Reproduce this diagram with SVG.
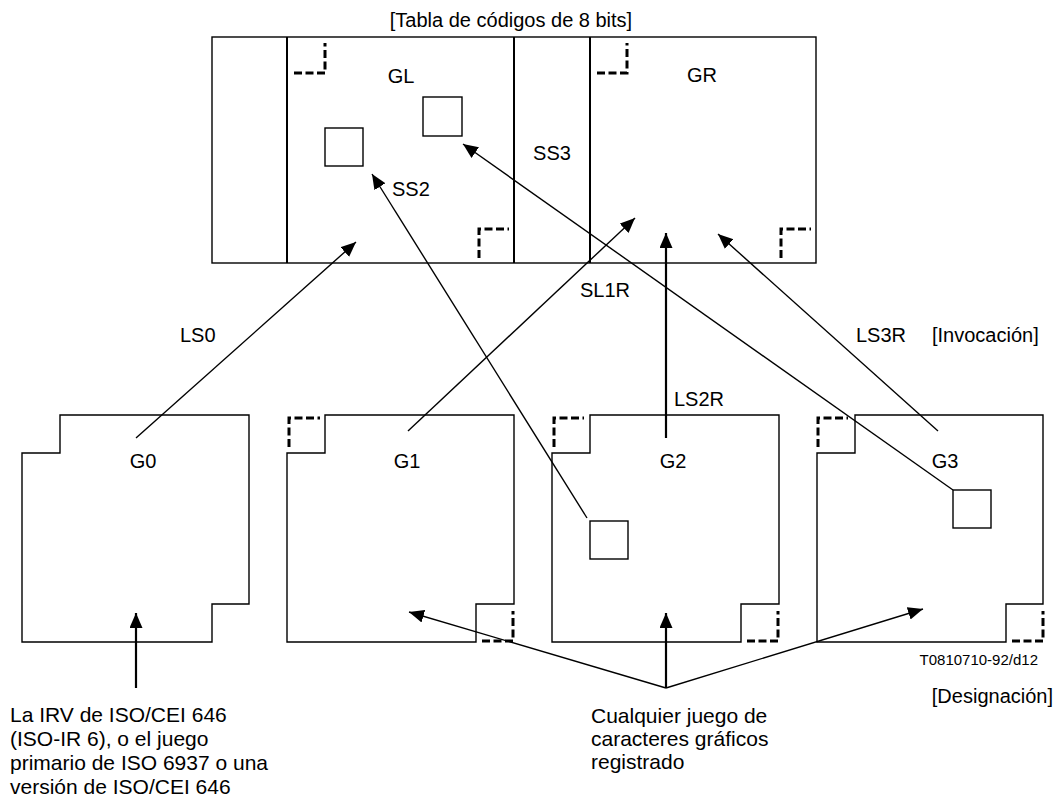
<svg xmlns="http://www.w3.org/2000/svg" width="1062" height="798" viewBox="0 0 1062 798">
<defs>
<marker id="ah" markerUnits="userSpaceOnUse" markerWidth="16" markerHeight="14" refX="15" refY="6.5" orient="auto">
<path d="M0,0 L15,6.5 L0,13 z" fill="#000"/>
</marker>
<style>
.t{font-family:"Liberation Sans",Arial,sans-serif;font-size:20px;fill:#000}
.d{font-family:"Liberation Sans",Arial,sans-serif;font-size:21px;fill:#000}
.s{font-family:"Liberation Sans",Arial,sans-serif;font-size:15px;fill:#000}
.box{fill:none;stroke:#000;stroke-width:1.4}
.div{fill:none;stroke:#000;stroke-width:2}
.dash{fill:none;stroke:#000;stroke-width:3;stroke-dasharray:8,3.5}
.c{fill:none;stroke:#000;stroke-width:1.4;marker-end:url(#ah)}
.cv{fill:none;stroke:#000;stroke-width:2.2;marker-end:url(#ah)}
.ln{fill:none;stroke:#000;stroke-width:1.4}
</style>
</defs>
<rect width="1062" height="798" fill="#fff"/>

<g id="codetable">
<text class="t" x="511" y="27" text-anchor="middle">[Tabla de códigos de 8 bits]</text>
<rect class="box" x="212" y="37" width="604" height="226"/>
<line class="div" x1="287" y1="37" x2="287" y2="263"/>
<line class="div" x1="514" y1="37" x2="514" y2="263"/>
<line class="div" x1="590" y1="37" x2="590" y2="263"/>
<path class="dash" d="M294,73 H325 V43"/>
<path class="dash" d="M479,258 V229 H509"/>
<path class="dash" d="M597,73 H627 V43"/>
<path class="dash" d="M781,258 V229 H811"/>
<rect class="box" x="325" y="128" width="38" height="38"/>
<rect class="box" x="423" y="97" width="39" height="39"/>
<text class="t" x="401" y="83" text-anchor="middle">GL</text>
<text class="t" x="702" y="82" text-anchor="middle">GR</text>
<text class="t" x="392" y="196">SS2</text>
<text class="t" x="552" y="160" text-anchor="middle">SS3</text>
</g>

<g id="G0">
<path class="box" d="M60,415 H249 V604 H212 V642 H22 V453 H60 Z"/>
<text class="t" x="143" y="468" text-anchor="middle">G0</text>
</g>
<g id="G1">
<path class="box" d="M325,415 H514 V604 H476 V642 H287 V453 H325 Z"/>
<path class="dash" d="M289,447 V418 H320"/>
<path class="dash" d="M482,641 H513 V611"/>
<text class="t" x="407" y="468" text-anchor="middle">G1</text>
</g>
<g id="G2">
<path class="box" d="M590,415 H779 V604 H741 V642 H552 V453 H590 Z"/>
<path class="dash" d="M554,447 V418 H584"/>
<path class="dash" d="M747,641 H778 V611"/>
<rect class="box" x="590" y="521" width="38" height="38"/>
<text class="t" x="673" y="468" text-anchor="middle">G2</text>
</g>
<g id="G3">
<path class="box" d="M855,415 H1043 V604 H1006 V642 H817 V453 H855 Z"/>
<path class="dash" d="M818,447 V418 H848"/>
<path class="dash" d="M1012,641 H1043 V611"/>
<rect class="box" x="953" y="490" width="38" height="38"/>
<text class="t" x="945" y="468" text-anchor="middle">G3</text>
</g>

<g id="connectors">
<line class="c" x1="136" y1="438" x2="356" y2="242"/>
<line class="c" x1="408" y1="431" x2="635" y2="218"/>
<line class="cv" x1="666" y1="438" x2="666" y2="233"/>
<line class="c" x1="938" y1="431" x2="718" y2="234"/>
<line class="c" x1="587" y1="518" x2="372" y2="174"/>
<line class="c" x1="953" y1="490" x2="463" y2="144"/>
<line class="cv" x1="136" y1="688" x2="136" y2="613"/>
<line class="c" x1="666" y1="688" x2="409" y2="612"/>
<line class="cv" x1="666" y1="688" x2="666" y2="613"/>
<line class="c" x1="666" y1="688" x2="923" y2="609"/>
</g>

<g id="labels">
<text class="t" x="180" y="342">LS0</text>
<text class="t" x="580" y="297">SL1R</text>
<text class="t" x="674" y="406">LS2R</text>
<text class="t" x="856" y="342">LS3R</text>
<text class="t" x="932" y="342">[Invocación]</text>
<text class="s" x="1038" y="665" text-anchor="end">T0810710-92/d12</text>
<text class="t" x="1053" y="703" text-anchor="end">[Designación]</text>
<text class="d" x="10" y="722">La IRV de ISO/CEI 646</text>
<text class="d" x="10" y="746">(ISO-IR 6), o el juego</text>
<text class="d" x="10" y="770">primario de ISO 6937 o una</text>
<text class="d" x="10" y="794">versión de ISO/CEI 646</text>
<text class="d" x="591" y="723">Cualquier juego de</text>
<text class="d" x="591" y="746">caracteres gráficos</text>
<text class="d" x="591" y="769">registrado</text>
</g>
</svg>
